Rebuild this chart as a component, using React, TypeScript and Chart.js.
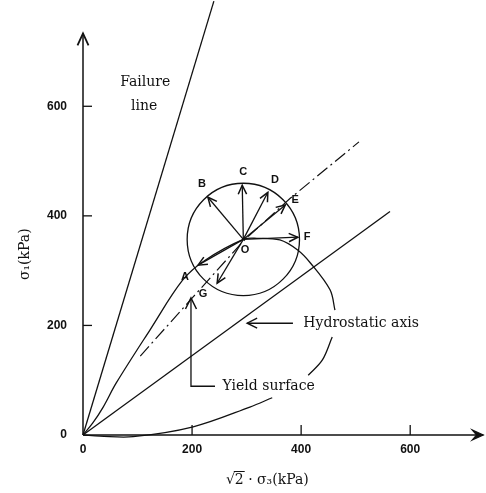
import React, { useEffect, useRef } from 'react';
import { Chart, registerables } from 'chart.js';

Chart.register(...registerables);

// ---- axis / scale values (kPa) ----
const xTickValues = [0, 200, 400, 600];
const yTickValues = [0, 200, 400, 600];
const xScaleMax = 739;
const yScaleMax = 794;
const xAxisEnd = 734;
const yAxisEnd = 733;

// ---- lines ----
const failureLineX = [0, 240];
const failureLineY = [0, 792];
const hydrostaticX = [0, 563];
const hydrostaticY = [0, 408];
const stressPathX = [105, 202, 294, 380, 506];
const stressPathY = [144, 252, 354, 432, 535];

// yield surface (null = gap under the labels)
const yieldX = [0, 18, 37, 61, 123, 183, 224, 294, 319, 361, 393, 417, 453, 462, null, 457, 439, 413, null, 347, 306, 202, 92, 31, 0];
const yieldY = [0, 22, 51, 95, 192, 283, 319, 357, 359, 356, 338, 314, 265, 228, null, 179, 137, 109, null, 68, 51, 15, -3, -2, 0];

// ---- circle and stress vectors ----
const centerO = [294, 357];
const circleRadius = 103;
const vectorNames = ['A', 'B', 'C', 'D', 'E', 'F', 'G'];
const vectorTipX = [211, 229, 292, 339, 371, 394, 246];
const vectorTipY = [310, 434, 456, 443, 420, 361, 277];
const vectorLabelX = [187, 218, 294, 352, 389, 411, 220];
const vectorLabelY = [288, 458, 480, 465, 429, 361, 257];
const originLabel = [297, 338];

// ---- leaders ----
const hydroLeaderX = [385, 301];
const hydroLeaderY = [204, 204];
const yieldLeaderX = [242, 198, 198];
const yieldLeaderY = [89, 89, 250];

// ---- notes ----
const noteTexts = ['Failure', 'line', 'Hydrostatic axis', 'Yield surface'];
const noteX = [114, 112, 404, 256];
const noteY = [644, 600, 204, 89];
const noteAlign = ['center', 'center', 'left', 'left'];

const xTitle = '√2 · σ₃(kPa)';
const yTitle = 'σ₁(kPa)';

const INK = '#111';
const SERIF = "'DejaVu Serif', serif";
const SANS = "'Liberation Sans', Arial, sans-serif";

const pts = (xs: (number | null)[], ys: (number | null)[]) =>
  xs.map((x, i) => ({ x: x as any, y: ys[i] as any }));

function lineDs(data: any[], extra: any = {}) {
  return {
    type: 'scatter',
    data,
    showLine: true,
    pointRadius: 0,
    borderColor: INK,
    borderWidth: 1.3,
    clip: false,
    spanGaps: false,
    ...extra,
  };
}

const arrowPlugin = {
  id: 'arrowHeads',
  afterDatasetsDraw(chart: any) {
    const ctx = chart.ctx;
    chart.data.datasets.forEach((ds: any, i: number) => {
      if (!ds.arrowHead) return;
      const meta = chart.getDatasetMeta(i);
      const el = meta.data;
      if (el.length < 2) return;
      const a = el[el.length - 2];
      const b = el[el.length - 1];
      const ang = Math.atan2(b.y - a.y, b.x - a.x);
      const { len, half, filled, width } = ds.arrowHead;
      const bx = b.x - len * Math.cos(ang);
      const by = b.y - len * Math.sin(ang);
      const px = -Math.sin(ang) * half;
      const py = Math.cos(ang) * half;
      ctx.save();
      ctx.strokeStyle = INK;
      ctx.fillStyle = INK;
      ctx.lineWidth = width || 1.5;
      ctx.lineJoin = 'miter';
      ctx.beginPath();
      ctx.moveTo(bx + px, by + py);
      ctx.lineTo(b.x, b.y);
      ctx.lineTo(bx - px, by - py);
      if (filled) {
        ctx.lineTo(b.x - len * 0.6 * Math.cos(ang), b.y - len * 0.6 * Math.sin(ang));
        ctx.closePath();
        ctx.fill();
      }
      ctx.stroke();
      ctx.restore();
    });
  },
};

const annotationPlugin = {
  id: 'annotations',
  afterDraw(chart: any) {
    const ctx = chart.ctx;
    const sx = chart.scales.x;
    const sy = chart.scales.y;
    const X = (v: number) => sx.getPixelForValue(v);
    const Y = (v: number) => sy.getPixelForValue(v);
    ctx.save();
    ctx.strokeStyle = INK;
    ctx.fillStyle = INK;
    // tick marks
    ctx.lineWidth = 1.3;
    const x0 = X(0);
    const y0 = Y(0);
    yTickValues.forEach((v) => {
      if (v === 0) return;
      ctx.beginPath();
      ctx.moveTo(x0, Y(v));
      ctx.lineTo(x0 + 9, Y(v));
      ctx.stroke();
    });
    xTickValues.forEach((v) => {
      if (v === 0) return;
      ctx.beginPath();
      ctx.moveTo(X(v), y0);
      ctx.lineTo(X(v), y0 - 10);
      ctx.stroke();
    });
    // notes
    ctx.textBaseline = 'middle';
    ctx.font = `14px ${SERIF}`;
    noteTexts.forEach((t, i) => {
      ctx.textAlign = noteAlign[i];
      ctx.fillText(t, X(noteX[i]), Y(noteY[i]));
    });
    // vector letters
    ctx.font = `bold 11px ${SANS}`;
    ctx.textAlign = 'center';
    vectorNames.forEach((n, i) => {
      ctx.fillText(n, X(vectorLabelX[i]), Y(vectorLabelY[i]));
    });
    ctx.fillText('O', X(originLabel[0]), Y(originLabel[1]));
    // x title
    ctx.font = `14px ${SERIF}`;
    ctx.textAlign = 'left';
    const cx = X(338);
    const cy = chart.chartArea.bottom + 45;
    const w = ctx.measureText(xTitle).width;
    const tx = cx - w / 2;
    ctx.fillText(xTitle, tx, cy);
    const wRoot = ctx.measureText('√').width;
    const w2 = ctx.measureText('√2').width;
    ctx.lineWidth = 1;
    ctx.beginPath();
    ctx.moveTo(tx + wRoot - 1, cy - 8.5);
    ctx.lineTo(tx + w2 + 1, cy - 8.5);
    ctx.stroke();
    // y title
    ctx.save();
    ctx.translate(chart.chartArea.left - 58, Y(330));
    ctx.rotate(-Math.PI / 2);
    ctx.textAlign = 'center';
    ctx.fillText(yTitle, 0, 0);
    ctx.restore();
    ctx.restore();
  },
};

export default function App() {
  const ref = useRef<HTMLCanvasElement | null>(null);
  useEffect(() => {
    document.body.style.margin = '0';
    if (!ref.current) return;
    const vectorSets = vectorNames.map((_, i) =>
      lineDs(pts([centerO[0], vectorTipX[i]], [centerO[1], vectorTipY[i]]), {
        arrowHead: { len: 9, half: 4.2, width: 1.5 },
      })
    );
    const chart = new Chart(ref.current, {
      type: 'scatter',
      data: {
        datasets: [
          lineDs(pts([0, 0], [0, yAxisEnd]), { borderWidth: 1.5, arrowHead: { len: 12, half: 5.5, width: 1.8 } }),
          lineDs(pts([0, xAxisEnd], [0, 0]), { borderWidth: 1.5, arrowHead: { len: 11, half: 5, filled: true, width: 1.2 } }),
          lineDs(pts(failureLineX, failureLineY)),
          lineDs(pts(hydrostaticX, hydrostaticY)),
          lineDs(pts(stressPathX, stressPathY), { borderDash: [13, 4, 2, 4], borderWidth: 1.2 }),
          lineDs(pts(yieldX, yieldY), { tension: 0.35 }),
          {
            type: 'scatter',
            data: [{ x: centerO[0], y: centerO[1] }],
            pointRadius: (c: any) => {
              const s = c.chart.scales.x;
              return s.getPixelForValue(circleRadius) - s.getPixelForValue(0);
            },
            pointBackgroundColor: 'rgba(0,0,0,0)',
            pointBorderColor: INK,
            pointBorderWidth: 1.3,
            clip: false,
          },
          ...vectorSets,
          lineDs(pts(hydroLeaderX, hydroLeaderY), { arrowHead: { len: 10, half: 5, width: 1.4 } }),
          lineDs(pts(yieldLeaderX, yieldLeaderY), { arrowHead: { len: 11, half: 5.5, width: 1.5 } }),
        ] as any,
      },
      options: {
        animation: false,
        responsive: true,
        maintainAspectRatio: false,
        events: [],
        layout: { padding: 0 },
        plugins: { legend: { display: false }, tooltip: { enabled: false } },
        scales: {
          x: {
            type: 'linear',
            min: 0,
            max: xScaleMax,
            afterFit: (s: any) => { s.height = 58; s.paddingLeft = 0; s.paddingRight = 0; },
            afterBuildTicks: (s: any) => { s.ticks = xTickValues.map((v) => ({ value: v })); },
            grid: { display: false, drawTicks: false },
            border: { display: false },
            ticks: { color: INK, padding: 7, font: { family: SANS, size: 12, weight: 'bold' } },
          },
          y: {
            type: 'linear',
            min: 0,
            max: yScaleMax,
            afterFit: (s: any) => { s.width = 83; s.paddingTop = 0; s.paddingBottom = 0; },
            afterBuildTicks: (s: any) => { s.ticks = yTickValues.map((v) => ({ value: v })); },
            grid: { display: false, drawTicks: false },
            border: { display: false },
            ticks: { color: INK, padding: 16, font: { family: SANS, size: 12, weight: 'bold' } },
          },
        },
      } as any,
      plugins: [arrowPlugin, annotationPlugin],
    });
    return () => chart.destroy();
  }, []);
  return (
    <div style={{ position: 'relative', width: 486, height: 493, background: '#fff' }}>
      <canvas ref={ref} />
    </div>
  );
}
